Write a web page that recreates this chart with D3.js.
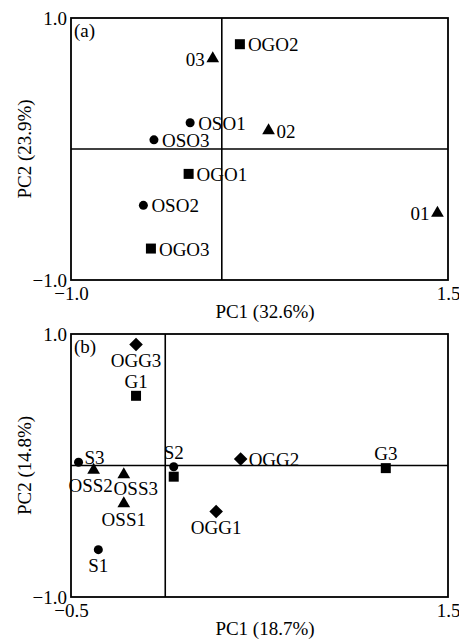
<!DOCTYPE html>
<html>
<head>
<meta charset="utf-8">
<script src="https://cdn.jsdelivr.net/npm/d3@7"></script>
<style>
  body { margin: 0; background: #fff; }
  text { font-family: "Liberation Serif", "DejaVu Serif", serif; fill: #000; }
</style>
</head>
<body>
<svg id="chart" width="459" height="639"></svg>
<script>
// panel (a) samples
const namesA = ['OGO2', '03', 'OSO1', 'OSO3', '02', 'OGO1', 'OSO2', 'OGO3', '01'];
const pc1A = [0.12, -0.06, -0.21, -0.45, 0.31, -0.22, -0.52, -0.47, 1.43];
const pc2A = [0.80, 0.69, 0.20, 0.07, 0.14, -0.19, -0.43, -0.76, -0.49];
const shapeA = ['square', 'triangle', 'circle', 'circle', 'triangle', 'square', 'circle', 'square', 'triangle'];
const placeA = ['right', 'left', 'right', 'right', 'right', 'right', 'right', 'right', 'left'];

// panel (b) samples (the square under S2 has no label in the figure)
const namesB = ['OGG3', 'G1', 'S3', 'S2', '', 'OSS2', 'OSS3', 'OSS1', 'S1', 'OGG1', 'OGG2', 'G3'];
const pc1B = [-0.155, -0.155, -0.46, 0.045, 0.045, -0.38, -0.22, -0.22, -0.355, 0.27, 0.40, 1.17];
const pc2B = [0.92, 0.53, 0.025, -0.01, -0.085, -0.035, -0.07, -0.29, -0.64, -0.35, 0.05, -0.02];
const shapeB = ['diamond', 'square', 'circle', 'circle', 'square', 'triangle', 'triangle', 'triangle', 'circle', 'diamond', 'diamond', 'square'];
const placeB = ['below', 'above', 'rightup', 'above', 'none', 'belowleft', 'belowright', 'below', 'below', 'below', 'right', 'above'];

const svg = d3.select('#chart');
const FS = 19;

const symbolFor = {
  square: d3.symbol().type(d3.symbolSquare).size(100),
  circle: d3.symbol().type(d3.symbolCircle).size(64),
  triangle: d3.symbol().type(d3.symbolTriangle).size(70),
  diamond: d3.symbol().type(d3.symbolSquare).size(92)
};

function panel(cfg) {
  const x = d3.scaleLinear().domain(cfg.xDom).range([71, 448]);
  const y = d3.scaleLinear().domain([-1, 1]).range([cfg.bottom, cfg.top]);
  const g = svg.append('g');

  //frame + zero lines
  g.append('rect')
    .attr('x', x.range()[0]).attr('y', cfg.top)
    .attr('width', x.range()[1] - x.range()[0]).attr('height', cfg.bottom - cfg.top)
    .attr('fill', 'none').attr('stroke', '#000').attr('stroke-width', 1.8);
  g.append('line')
    .attr('x1', x(0)).attr('x2', x(0)).attr('y1', cfg.top).attr('y2', cfg.bottom)
    .attr('stroke', '#000').attr('stroke-width', 1.6);
  g.append('line')
    .attr('x1', x.range()[0]).attr('x2', x.range()[1]).attr('y1', y(0)).attr('y2', y(0))
    .attr('stroke', '#000').attr('stroke-width', 1.6);

  //tick labels only (no tick marks)
  const ax = g.append('g').attr('transform', `translate(0,${cfg.bottom})`)
    .call(d3.axisBottom(x).tickValues(cfg.xDom).tickFormat(d3.format('.1f')).tickSize(0).tickPadding(7));
  const ay = g.append('g').attr('transform', `translate(${x.range()[0]},0)`)
    .call(d3.axisLeft(y).tickValues([-1, 1]).tickFormat(d3.format('.1f')).tickSize(0).tickPadding(4));
  [ax, ay].forEach(a => {
    a.select('.domain').remove();
    a.selectAll('text').attr('font-size', FS).attr('font-family', '"Liberation Serif", serif').attr('fill', '#000');
  });

  //axis titles
  g.append('text')
    .attr('x', 265).attr('y', cfg.bottom + 38)
    .attr('text-anchor', 'middle').attr('font-size', FS)
    .text(cfg.xTitle);
  g.append('text')
    .attr('transform', `translate(31,${(cfg.top + cfg.bottom) / 2}) rotate(-90)`)
    .attr('text-anchor', 'middle').attr('font-size', FS)
    .text(cfg.yTitle);
  g.append('text')
    .attr('x', 74).attr('y', cfg.top + 19)
    .attr('font-size', FS)
    .text(cfg.tag);

  const rows = cfg.names.map((n, i) => ({ name: n, px: cfg.pc1[i], py: cfg.pc2[i], shape: cfg.shape[i], place: cfg.place[i] }));

  g.selectAll('.pt')
    .data(rows)
    .join('path')
    .attr('class', 'pt')
    .attr('transform', d => `translate(${x(d.px)},${y(d.py)})` + (d.shape === 'diamond' ? ' rotate(45)' : ''))
    .attr('d', d => symbolFor[d.shape]())
    .attr('fill', '#000');

  //labels round the markers
  const off = {
    right: [8, 7, 'start'],
    left: [-8, 7, 'end'],
    rightup: [6, 2, 'start'],
    above: [0, -8, 'middle'],
    below: [0, 22, 'middle'],
    belowleft: [-3, 22, 'middle'],
    belowright: [12, 20, 'middle']
  };
  g.selectAll('.lbl')
    .data(rows.filter(d => d.place !== 'none'))
    .join('text')
    .attr('class', 'lbl')
    .attr('x', d => x(d.px) + off[d.place][0])
    .attr('y', d => y(d.py) + off[d.place][1])
    .attr('text-anchor', d => off[d.place][2])
    .attr('font-size', FS)
    .text(d => d.name);
}

panel({
  xDom: [-1, 1.5], top: 18, bottom: 280, tag: '(a)',
  xTitle: 'PC1 (32.6%)', yTitle: 'PC2 (23.9%)',
  names: namesA, pc1: pc1A, pc2: pc2A, shape: shapeA, place: placeA
});
panel({
  xDom: [-0.5, 1.5], top: 334, bottom: 597, tag: '(b)',
  xTitle: 'PC1 (18.7%)', yTitle: 'PC2 (14.8%)',
  names: namesB, pc1: pc1B, pc2: pc2B, shape: shapeB, place: placeB
});
</script>
</body>
</html>
